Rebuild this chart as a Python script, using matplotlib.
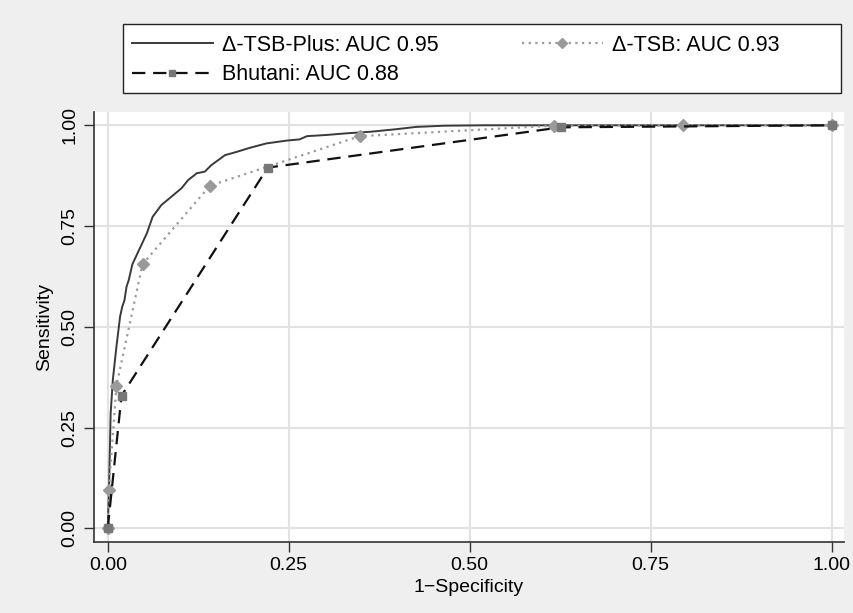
import numpy as np
import matplotlib
matplotlib.use("Agg")
import matplotlib.pyplot as plt
from matplotlib.patches import Rectangle

plt.rcParams["font.family"] = ["Liberation Sans", "DejaVu Sans"]

# ---------- data ----------
plus_fpr = [0.0, 0.001, 0.002, 0.003, 0.004, 0.007, 0.012, 0.017, 0.020, 0.023,
            0.026, 0.029, 0.034, 0.042, 0.054, 0.062, 0.074, 0.088, 0.102, 0.111,
            0.123, 0.134, 0.143, 0.162, 0.178, 0.196, 0.219, 0.247, 0.265, 0.275,
            0.302, 0.329, 0.363, 0.397, 0.426, 0.465, 0.52, 0.62, 0.80, 1.0]
plus_tpr = [0.0, 0.06, 0.12, 0.20, 0.285, 0.368, 0.451, 0.525, 0.55, 0.565,
            0.60, 0.616, 0.655, 0.686, 0.732, 0.773, 0.802, 0.823, 0.844, 0.864,
            0.881, 0.885, 0.901, 0.926, 0.934, 0.944, 0.955, 0.962, 0.965, 0.973,
            0.976, 0.980, 0.984, 0.990, 0.996, 0.999, 1.0, 1.0, 1.0, 1.0]

tsb_fpr = [0.0, 0.0015, 0.012, 0.048, 0.141, 0.348, 0.616, 0.795, 1.0]
tsb_tpr = [0.0, 0.096, 0.354, 0.655, 0.850, 0.973, 0.999, 1.0, 1.0]

bhu_fpr = [0.0, 0.019, 0.221, 0.626, 1.0]
bhu_tpr = [0.0, 0.329, 0.895, 0.995, 1.0]

labels = ["\u0394-TSB-Plus: AUC 0.95", "\u0394-TSB: AUC 0.93", "Bhutani: AUC 0.88"]
ticks = [0.0, 0.25, 0.5, 0.75, 1.0]
tick_labels = ["0.00", "0.25", "0.50", "0.75", "1.00"]

# ---------- figure ----------
BG = "#efefef"
W, H = 854, 613
fig = plt.figure(figsize=(8.54, 6.13), dpi=100, facecolor=BG)
ax = fig.add_axes([94 / W, 71 / H, 750 / W, 430 / H])
ax.set_facecolor("white")

l1, = ax.plot(plus_fpr, plus_tpr, color="#3a3a3a", lw=1.4, zorder=3)
l2, = ax.plot(tsb_fpr, tsb_tpr, color="#9a9a9a", lw=1.6, ls=(0, (1, 2)),
              marker="D", ms=6, mfc="#9a9a9a", mec="#9a9a9a", zorder=4)
l3, = ax.plot(bhu_fpr, bhu_tpr, color="#111111", lw=1.6, ls=(0, (6, 3.5)),
              marker="s", ms=6, mfc="#777777", mec="#777777", zorder=5)

ax.set_xlim(-0.019, 1.017)
ax.set_ylim(-0.034, 1.033)
ax.set_xticks(ticks)
ax.set_xticklabels(tick_labels)
ax.set_yticks(ticks)
ax.set_yticklabels(tick_labels, rotation=90, va="center")
ax.tick_params(axis="both", labelsize=14, length=7, width=1, color="#333333")
ax.tick_params(axis="y", pad=4)
ax.grid(True, color="#e2e2e2", lw=1.5, zorder=0)
ax.set_axisbelow(True)
for s in ["top", "right"]:
    ax.spines[s].set_visible(False)
for s in ["left", "bottom"]:
    ax.spines[s].set_color("#333333")
    ax.spines[s].set_linewidth(1.2)

ax.set_xlabel("1\u2212Specificity", fontsize=14, labelpad=4)
ax.set_ylabel("Sensitivity", fontsize=14, labelpad=6)

# legend box drawn separately so its width matches the plot region
fig.patches.append(Rectangle((123 / W, 1 - 93 / H), (841 - 123) / W, 69 / H,
                             transform=fig.transFigure, facecolor="white",
                             edgecolor="#222222", lw=1.0, zorder=1))
leg = fig.legend([l1, l3, l2], [labels[0], labels[2], labels[1]], ncol=2,
                 loc="upper left", bbox_to_anchor=(132 / W, 1 - 35 / H),
                 fontsize=15.5, frameon=False, handlelength=3.75,
                 handletextpad=0.45, columnspacing=3.85, labelspacing=0.38,
                 borderpad=0, borderaxespad=0, markerscale=0.8)
leg.set_zorder(2)

fig.savefig("out.png", dpi=100, facecolor=BG)
